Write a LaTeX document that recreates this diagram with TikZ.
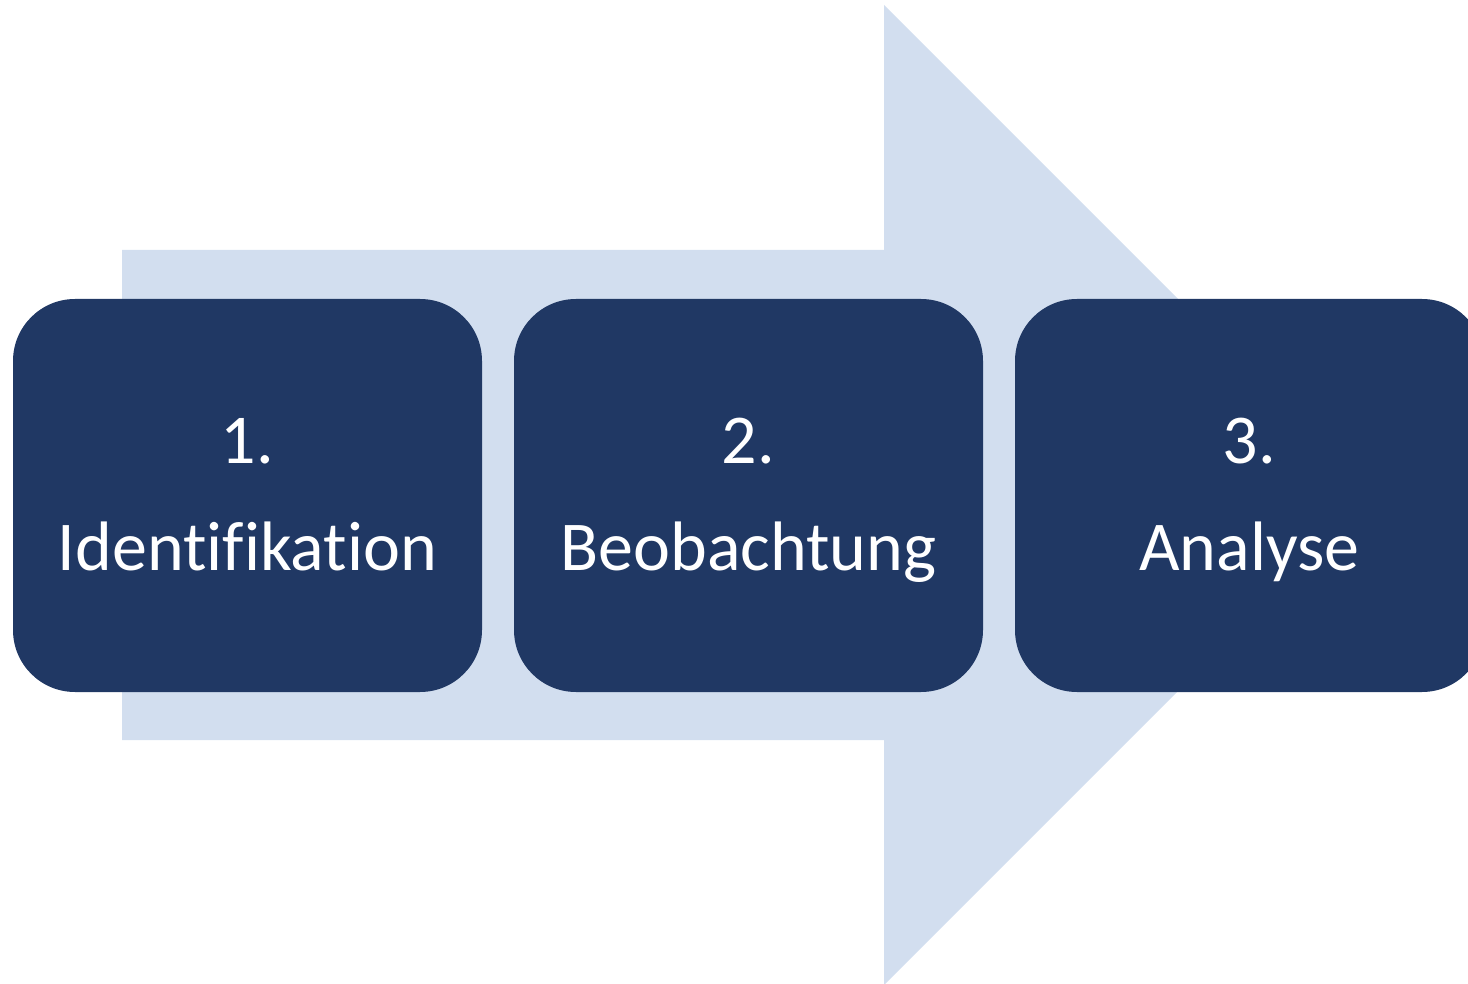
\documentclass[tikz,border=0pt]{standalone}
\usepackage{fontspec}
\setmainfont{Carlito}[Ligatures=NoCommon]
\usepackage{tikz}
\definecolor{navy}{HTML}{203864}
\definecolor{paleblue}{HTML}{D2DEEF}

\begin{document}
\begin{tikzpicture}[x=1pt,y=-1pt,
    stepbox/.style={rectangle,rounded corners=62pt,fill=navy,text=white,
      minimum width=469pt,minimum height=393pt,align=center,
      font=\fontsize{70}{107}\selectfont}]
    \clip (0,0) rectangle (1468,984);
    % big arrow behind the steps
    \fill[paleblue] (122,250) -- (884,250) -- (884,5) -- (1374,495)
      -- (884,985) -- (884,740) -- (122,740) -- cycle;
    \node at (247.5,495.5) [stepbox] (s1) {\strut 1.\\\strut Identifikation};
    \node at (748.5,495.5) [stepbox] (s2) {\strut 2.\\\strut Beobachtung};
    \node at (1249.5,495.5) [stepbox] (s3) {\strut 3.\\\strut Analyse};
\end{tikzpicture}
\end{document}
